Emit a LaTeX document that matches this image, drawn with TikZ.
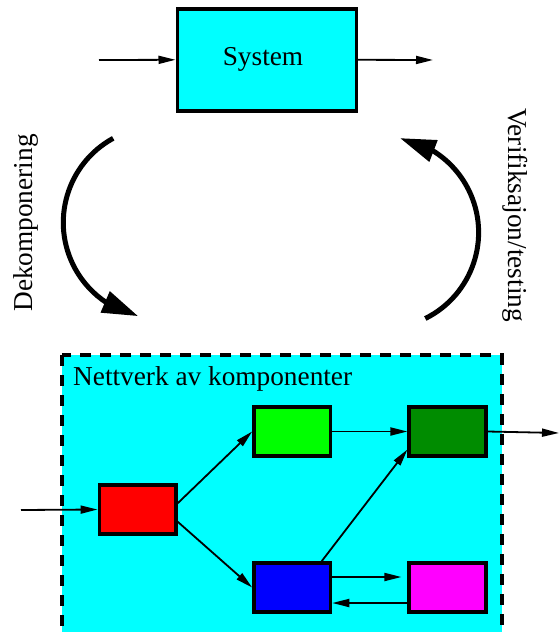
\documentclass[tikz,border=0pt]{standalone}
\usepackage{fontspec}
\setmainfont{Liberation Serif}
\usetikzlibrary{arrows.meta,bending,calc}
\definecolor{sysc}{RGB}{0,255,255}
\definecolor{dgreen}{RGB}{0,140,0}
\definecolor{cred}{RGB}{255,0,0}
\definecolor{cgreen}{RGB}{0,255,0}
\definecolor{cblue}{RGB}{0,0,255}
\definecolor{cmag}{RGB}{255,0,255}
\begin{document}
\begin{tikzpicture}[x=1pt,y=1pt,
  lbl/.style={font=\fontsize{27.3}{33}\selectfont, inner sep=0pt},
  comp/.style={draw=black, line width=3.6pt, minimum width=76.5pt, minimum height=49pt, inner sep=0pt},
  sysbox/.style={draw=black, line width=3.4pt, fill=sysc, minimum width=179pt, minimum height=102pt, inner sep=0pt},
  flow/.style={line width=1.8pt, -{Triangle[length=17pt,width=8pt]}},
  bigflow/.style={line width=5pt, -{Triangle[length=36pt,width=22pt,flex]}},
  netborder/.style={draw=black, fill=sysc, line width=4pt, dash pattern=on 11pt off 9pt}
]
\useasboundingbox (0,0) rectangle (559,-632);
\clip (0,0) rectangle (559,-632);
% network container
\path[netborder] (62,-355) rectangle (501.5,-670);
\node[lbl, anchor=base west] (nettxt) at (73,-385) {Nettverk av komponenter};
% system
\node[sysbox] (sys) at (266.7,-59.8) {};
\node[lbl, anchor=base] (systxt) at (263,-65) {System};
\coordinate (sin) at (99,-60);
\coordinate (sout) at (433,-60);
\draw[flow] (sin) -- (sys.west);
\draw[flow] (sys.east) -- (sout);
% components
\node[comp, fill=cred] (r) at (137.6,-509.5) {};
\node[comp, fill=cgreen] (g) at (292.2,-431.5) {};
\node[comp, fill=dgreen] (dg) at (447.5,-431.5) {};
\node[comp, fill=cblue] (b) at (292.2,-587.5) {};
\node[comp, fill=cmag] (m) at (447.5,-587.5) {};
\coordinate (nin) at (21,-510);
\coordinate (nout) at (559,-433);
\draw[flow] (nin) -- (r.west);
\draw[flow] ($(r.east)+(0,6.2)$) -- (g.west);
\draw[flow] ($(r.east)+(0,-12.2)$) -- (b.west);
\draw[flow] (g.east) -- (dg.west);
\draw[flow] ($(b.north)+(29.5,0)$) -- ($(dg.west)+(0,-18)$);
\draw[flow] ($(b.east)+(0,10.5)$) -- ($(m.west)+(-6,10.5)$);
\draw[flow] ($(m.west)+(0,-15.5)$) -- ($(b.east)+(0,-15.5)$);
\draw[flow] (dg.east) -- (nout);
% cycle arrows
\coordinate (dstart) at (113.2,-138.3);
\draw[bigflow] (dstart) arc[start angle=118.7, end angle=257.3, radius=96pt];
\coordinate (vstart) at (425.3,-318.5);
\draw[bigflow] (vstart) arc[start angle=-63.6, end angle=79.6, radius=96pt];
\node[lbl, rotate=90, anchor=base] (dek) at (32,-223) {Dekomponering};
\node[lbl, rotate=-90, anchor=base] (ver) at (508,-215) {Verifiksajon/testing};
\end{tikzpicture}
\end{document}
